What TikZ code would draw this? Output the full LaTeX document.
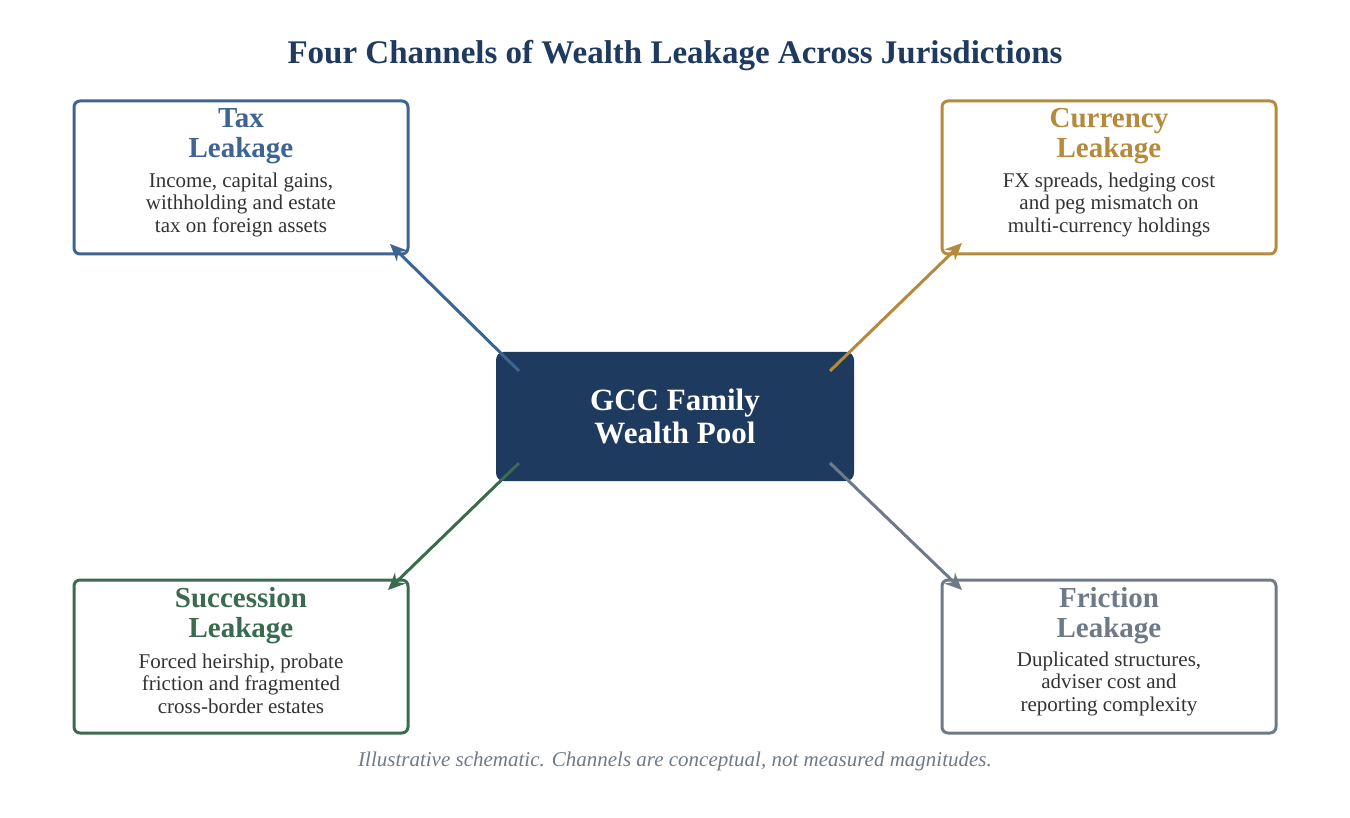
\documentclass[tikz,border=0pt]{standalone}
\usepackage{fontspec}
\setmainfont{Liberation Serif}
\usetikzlibrary{arrows.meta}
\definecolor{navy}{HTML}{1F3A5F}
\definecolor{cblue}{HTML}{3E6491}
\definecolor{cgold}{HTML}{B58A3A}
\definecolor{cgreen}{HTML}{3A6B4E}
\definecolor{cgray}{HTML}{6E7A88}
\definecolor{ctext}{HTML}{333333}
\begin{document}
\begin{tikzpicture}[x=1pt,y=-1pt,
  box/.style={draw=#1,line width=3pt,rounded corners=6pt,fill=white,minimum width=334pt,minimum height=153pt},
  ttl/.style={text=#1,font=\bfseries\fontsize{29}{30}\selectfont,align=center},
  body/.style={text=ctext,font=\fontsize{21}{22.5}\selectfont,align=center},
  arr/.style={draw=#1,line width=3pt,-{Stealth[length=17pt,width=15pt]}}]
\useasboundingbox (0,0) rectangle (1350,818);
\node[text=navy,font=\bfseries\fontsize{33}{36}\selectfont] (title) at (675,56) {Four Channels of Wealth Leakage Across Jurisdictions};
\node[fill=navy,rounded corners=8pt,minimum width=358pt,minimum height=129pt,text=white,font=\bfseries\fontsize{31}{33}\selectfont,align=center] (c) at (675,416.5) {GCC Family\\Wealth Pool};
\node[box=cblue] (t) at (241,177.5) {};
\node[box=cgold] (cu) at (1109,177.5) {};
\node[box=cgreen] (s) at (241,656.5) {};
\node[box=cgray] (f) at (1109,656.5) {};
\foreach \n/\col/\a/\b/\l/\m/\r in {t/cblue/Tax/Leakage/{Income, capital gains,}/{withholding and estate}/{tax on foreign assets},
 cu/cgold/Currency/Leakage/{FX spreads, hedging cost}/{and peg mismatch on}/{multi-currency holdings},
 s/cgreen/Succession/Leakage/{Forced heirship, probate}/{friction and fragmented}/{cross-border estates},
 f/cgray/Friction/Leakage/{Duplicated structures,}/{adviser cost and}/{reporting complexity}}{
 \node[ttl=\col] (\n-h) at ([yshift=-37pt]\n.north) {\a\\\b};
 \node[body] (\n-b) at ([yshift=-105pt]\n.north) {\l\\\m\\\r};
}
\coordinate (c1) at (519,371); \coordinate (c2) at (830,371);
\coordinate (c3) at (519,463); \coordinate (c4) at (830,463);
\coordinate (e1) at (390,244); \coordinate (e2) at (962,243);
\coordinate (e3) at (388,590); \coordinate (e4) at (962,590);
\draw[arr=cblue] (c1) -- (e1);
\draw[arr=cgold] (c2) -- (e2);
\draw[arr=cgreen] (c3) -- (e3);
\draw[arr=cgray] (c4) -- (e4);
\node[text=cgray,font=\itshape\fontsize{21}{24}\selectfont] (foot) at (675,761) {Illustrative schematic. Channels are conceptual, not measured magnitudes.};
\end{tikzpicture}
\end{document}
